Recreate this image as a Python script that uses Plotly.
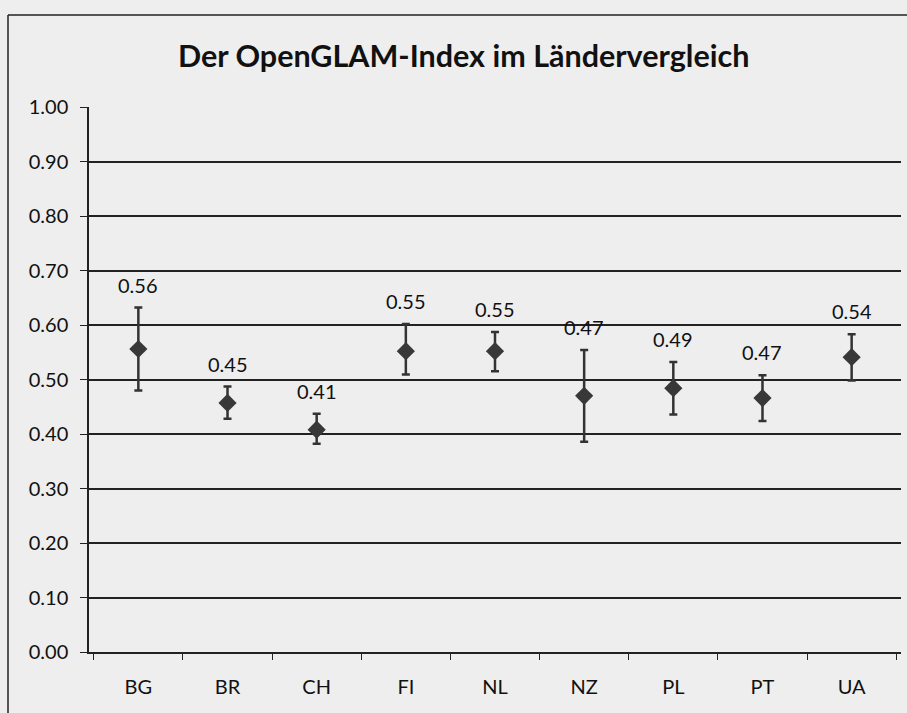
import plotly.graph_objects as go

countries = ["BG", "BR", "CH", "FI", "NL", "NZ", "PL", "PT", "UA"]
index_values = [0.556, 0.457, 0.408, 0.552, 0.552, 0.470, 0.484, 0.466, 0.541]
upper_bounds = [0.632, 0.487, 0.437, 0.602, 0.587, 0.554, 0.532, 0.508, 0.583]
lower_bounds = [0.480, 0.428, 0.382, 0.509, 0.515, 0.386, 0.436, 0.424, 0.498]
value_labels = ["0.56", "0.45", "0.41", "0.55", "0.55", "0.47", "0.49", "0.47", "0.54"]
title_text = "Der OpenGLAM-Index im Ländervergleich"

err_plus = [u - v for u, v in zip(upper_bounds, index_values)]
err_minus = [v - l for v, l in zip(index_values, lower_bounds)]

FONT = "Lato"
INK = "#222222"
BG = "#eeeeee"

fig = go.Figure()
fig.add_trace(go.Scatter(
    x=countries, y=index_values, mode="markers",
    marker=dict(symbol="diamond", size=14, color="#383838"),
    error_y=dict(type="data", symmetric=False, array=err_plus, arrayminus=err_minus,
                 color="#333333", thickness=2.5, width=4),
    showlegend=False, hoverinfo="skip",
))

for c, u, t in zip(countries, upper_bounds, value_labels):
    fig.add_annotation(x=c, y=u, text=t, showarrow=False, yanchor="bottom", yshift=9,
                       font=dict(family=FONT, size=20, color="#111111"))

fig.add_annotation(xref="paper", yref="paper", x=(463 - 89) / 812, y=(652 - 55) / 545,
                   text="<b>" + title_text + "</b>", showarrow=False,
                   xanchor="center", yanchor="middle",
                   font=dict(family=FONT, size=30.5, color="#111111"))

# frame lines of the printed chart box
fig.add_shape(type="line", xref="paper", yref="paper",
              x0=(8 - 89) / 812, x1=(8 - 89) / 812, y0=(652 - 15) / 545, y1=(652 - 713) / 545,
              line=dict(color="#222222", width=1.5))
fig.add_shape(type="line", xref="paper", yref="paper",
              x0=(8 - 89) / 812, x1=(907 - 89) / 812, y0=(652 - 15) / 545, y1=(652 - 15) / 545,
              line=dict(color="#222222", width=1.5))

fig.update_layout(
    width=907, height=713,
    margin=dict(l=89, r=6, t=107, b=61),
    paper_bgcolor=BG, plot_bgcolor=BG,
    font=dict(family=FONT, color="#111111"),
)
fig.update_xaxes(
    type="category", tickson="boundaries", ticks="outside", ticklen=6,
    tickcolor=INK, showline=True, linecolor=INK, linewidth=1.5,
    showgrid=False, tickfont=dict(family=FONT, size=20), ticklabelstandoff=16,
)
fig.update_yaxes(
    range=[0, 1.0], dtick=0.1, tickformat=".2f", ticks="outside", ticklen=7,
    tickcolor=INK, showline=True, linecolor=INK, linewidth=1.5,
    showgrid=True, gridcolor=INK, gridwidth=1.7, zeroline=False,
    tickfont=dict(family=FONT, size=20), ticklabelstandoff=8,
)

fig.write_html("out.html", config={"displayModeBar": False},
               post_script="document.body.style.margin='0';document.body.style.padding='0';")
